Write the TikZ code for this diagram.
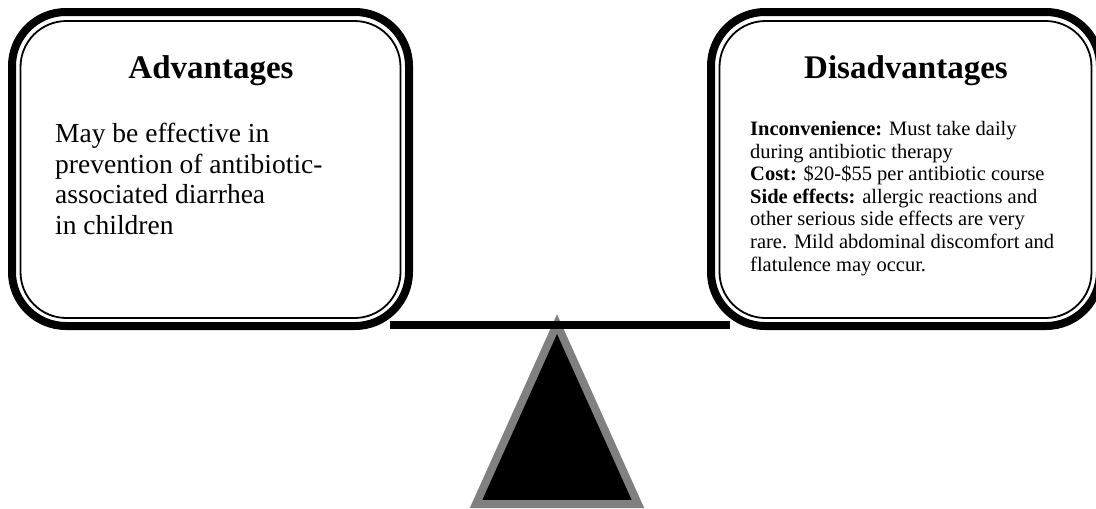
\documentclass[tikz,border=0pt]{standalone}
\usepackage{fontspec}
\setmainfont{Liberation Serif}
\usetikzlibrary{positioning}

\begin{document}
\begin{tikzpicture}[x=1pt,y=-1pt,
    panel/.style={
        rectangle,
        draw=black,
        fill=white,
        line width=8pt,
        rounded corners=54pt,
        outer sep=0pt,
        minimum height=314pt},
    innerline/.style={draw=black, line width=1.8pt, rounded corners=46pt},
    title/.style={anchor=base, font=\bfseries\fontsize{33}{38}\selectfont},
    bigtext/.style={anchor=north west, inner sep=0pt, align=left,
        font=\fontsize{27.5}{30.5}\selectfont},
    smalltext/.style={anchor=north west, inner sep=0pt, align=left,
        font=\fontsize{20.5}{22.6}\selectfont},
    beam/.style={line width=8pt},
    pivot/.style={draw=gray, fill=black, line width=8pt}
    ]
    \useasboundingbox (0,0) rectangle (1096,509);

    % fulcrum and beam go under the two panels
    \coordinate (apex) at (557,324);
    \coordinate (baseL) at (476,504);
    \coordinate (baseR) at (638,504);
    \draw[pivot] (apex) -- (baseL) -- (baseR) -- cycle;
    \coordinate (beamL) at (390,325);
    \coordinate (beamR) at (730,325);
    \draw[beam] (beamL) -- (beamR);

    \node[panel, minimum width=397pt] (adv) at (210.5,169) {};
    \node[panel, minimum width=389pt] (dis) at (905.5,169) {};
    \foreach \p in {adv,dis}
        \draw[innerline] ([shift={(8.5pt,-9pt)}]\p.north west) rectangle ([shift={(-8.5pt,8pt)}]\p.south east);

    \node[title] (advtitle) at (211,78) {Advantages};
    \node[title] (distitle) at (906,78) {Disadvantages};

    \node[bigtext] (advtext) at (55,123) {May be effective in\\
        prevention of antibiotic-\\
        associated diarrhea\\
        in children};
    \node[smalltext] (distext) at (750,121) {\textbf{Inconvenience:} Must take daily\\
        during antibiotic therapy\\
        \textbf{Cost:} \$20-\$55 per antibiotic course\\
        \textbf{Side effects:} allergic reactions and\\
        other serious side effects are very\\
        rare. Mild abdominal discomfort and\\
        flatulence may occur.};
\end{tikzpicture}
\end{document}
